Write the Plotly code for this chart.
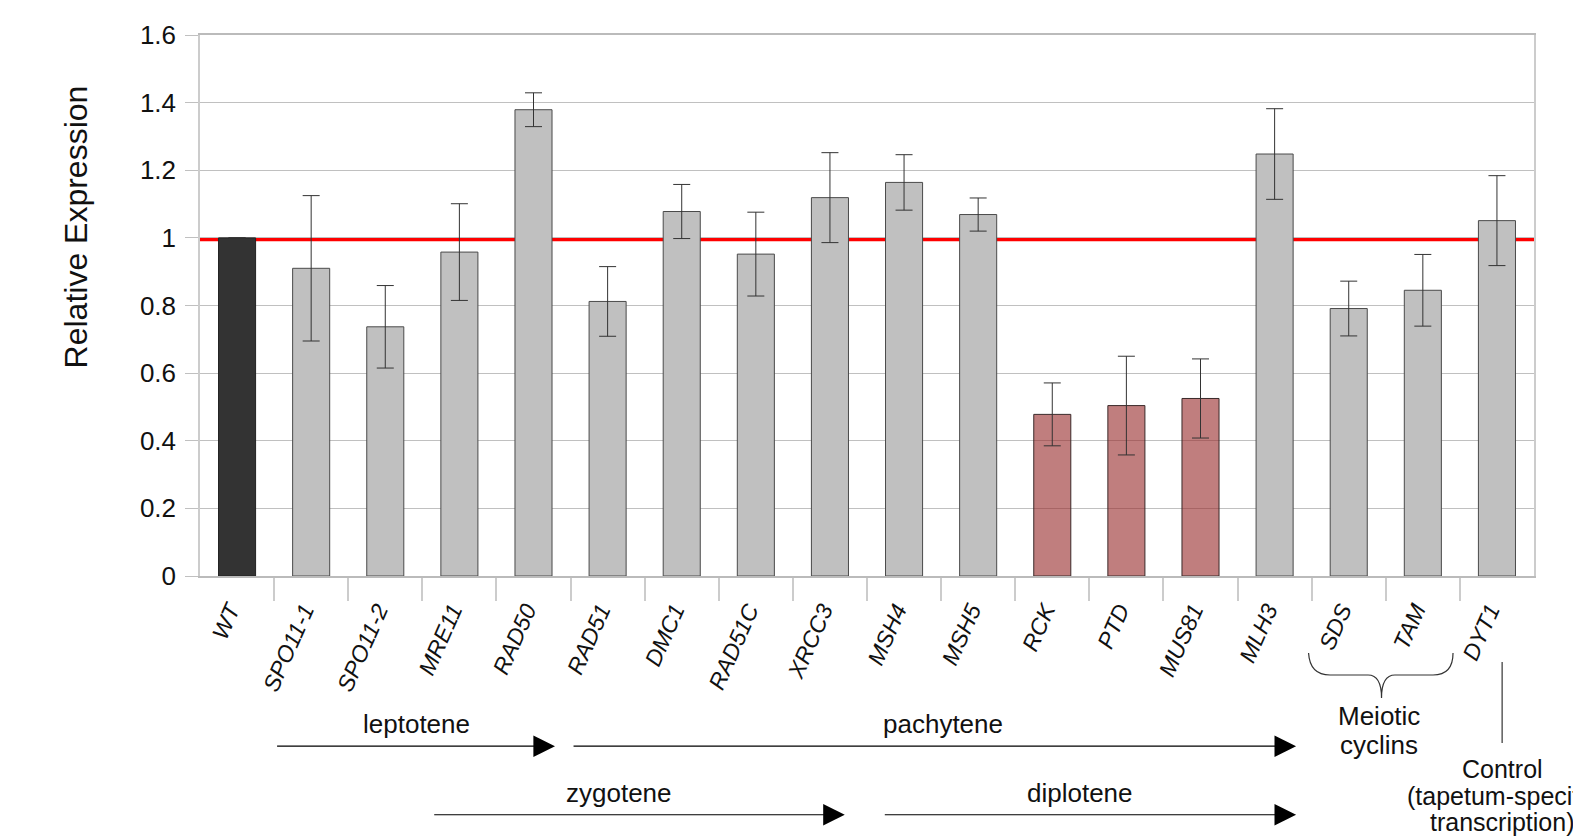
import plotly.graph_objects as go

GENES = ["WT", "SPO11-1", "SPO11-2", "MRE11", "RAD50", "RAD51", "DMC1", "RAD51C",
         "XRCC3", "MSH4", "MSH5", "RCK", "PTD", "MUS81", "MLH3", "SDS", "TAM", "DYT1"]
VALUES = [1.00, 0.91, 0.737, 0.958, 1.379, 0.812, 1.078, 0.952, 1.119, 1.164, 1.069,
          0.478, 0.504, 0.525, 1.248, 0.791, 0.845, 1.051]
ERRORS = [0.0, 0.215, 0.122, 0.143, 0.050, 0.103, 0.080, 0.124, 0.133, 0.082, 0.049,
          0.093, 0.146, 0.117, 0.134, 0.081, 0.106, 0.133]
GROUPS = ["wt", "g", "g", "g", "g", "g", "g", "g", "g", "g", "g",
          "r", "r", "r", "g", "g", "g", "g"]
Y_TICKS = [0, 0.2, 0.4, 0.6, 0.8, 1.0, 1.2, 1.4, 1.6]
Y_TICK_TEXT = ["0", "0.2", "0.4", "0.6", "0.8", "1", "1.2", "1.4", "1.6"]
REF_LEVEL = 0.995

FILL = {"wt": "#333333", "g": "#c0c0c0", "r": "rgba(150,40,40,0.6)"}
EDGE = {"wt": "#222222", "g": "#4a4a4a", "r": "#3a2a2a"}

FONT = "Arial, Liberation Sans, sans-serif"
idx = list(range(len(GENES)))

fig = go.Figure()
fig.add_trace(go.Bar(
    x=idx, y=VALUES, width=0.5,
    marker=dict(color=[FILL[g] for g in GROUPS],
                line=dict(color=[EDGE[g] for g in GROUPS], width=1)),
    error_y=dict(type="data", array=ERRORS, visible=True,
                 color="#333333", thickness=1, width=8.5),
    hoverinfo="x+y",
))

fig.add_shape(type="line", xref="paper", yref="y", x0=0, x1=1,
              y0=REF_LEVEL, y1=REF_LEVEL, line=dict(color="#ff0000", width=3.5),
              layer="between")

# stage arrows (data x, paper y)
arrows = [
    (0.52, 4.29, -0.3146), (4.52, 14.29, -0.3146),
    (2.64, 8.20, -0.4413), (8.72, 14.29, -0.4413),
]
for x0, x1, yy in arrows:
    fig.add_annotation(x=x1, y=yy, xref="x", yref="paper", ax=x0, ay=0,
                       axref="x", ayref="pixel", text="", showarrow=True,
                       arrowhead=2, arrowsize=3.6, arrowwidth=1.2,
                       arrowcolor="#000000")

labels = [
    ("leptotene", 2.42, -0.2736, 26), ("pachytene", 9.52, -0.2736, 26),
    ("zygotene", 5.15, -0.402, 26), ("diplotene", 11.37, -0.402, 26),
    ("Meiotic", 15.41, -0.2588, 26), ("cyclins", 15.41, -0.3124, 26),
    ("Control", 17.07, -0.3562, 25), ("(tapetum-specific", 17.07, -0.4067, 25),
    ("transcription)", 17.07, -0.4542, 25),
]
for t, xx, yy, fs in labels:
    fig.add_annotation(x=xx, y=yy, xref="x", yref="paper", text=t,
                       showarrow=False, xanchor="center", yanchor="middle",
                       font=dict(family=FONT, size=fs, color="#111111"))

# y-axis title (sits above the axis centre in the reference)
fig.add_annotation(x=-0.0933, y=0.6453, xref="paper", yref="paper",
                   text="Relative Expression", textangle=-90, showarrow=False,
                   xanchor="center", yanchor="middle",
                   font=dict(family=FONT, size=32, color="#111111"))

# brace under SDS / TAM
fig.add_shape(type="path", xref="paper", yref="paper",
              path=("M 0.8310,-0.1423 Q 0.8320,-0.1830 0.8471,-0.1830 "
                    "L 0.8756,-0.1830 Q 0.8857,-0.1830 0.8857,-0.2255 "
                    "Q 0.8857,-0.1830 0.8958,-0.1830 L 0.9243,-0.1830 "
                    "Q 0.9393,-0.1830 0.9393,-0.1423"),
              line=dict(color="#333333", width=1.2))
# line under DYT1
fig.add_shape(type="line", xref="x", yref="paper", x0=17.07, x1=17.07,
              y0=-0.159, y1=-0.3087, line=dict(color="#333333", width=1.2))

fig.update_layout(
    width=1581, height=839,
    margin=dict(l=192, r=55, t=27, b=271),
    paper_bgcolor="white", plot_bgcolor="white",
    showlegend=False,
    font=dict(family=FONT, color="#111111"),
    xaxis=dict(
        range=[-0.5, len(GENES) - 0.5],
        tickmode="array", tickvals=idx, ticktext=GENES,
        tickangle=-66,
        tickfont=dict(family=FONT, size=23, style="italic", color="#111111"),
        ticks="outside", ticklen=10, tickcolor="rgba(0,0,0,0)",
        ticklabelshift=-7,
        minor=dict(tickmode="array", tickvals=[i + 0.5 for i in idx[:-1]],
                   ticks="outside", ticklen=23, tickcolor="#cccccc",
                   tickwidth=1.5, showgrid=False),
        showgrid=False, zeroline=False,
        showline=True, linecolor="#bbbbbb", linewidth=1.5, mirror=True,
    ),
    yaxis=dict(
        range=[0, 1.6], tickmode="array", tickvals=Y_TICKS, ticktext=Y_TICK_TEXT,
        tickfont=dict(family=FONT, size=26, color="#111111"),
        ticks="outside", ticklen=13, tickcolor="#c0c0c0",
        ticklabelstandoff=4,
        showgrid=True, gridcolor="#c0c0c0", gridwidth=1,
        zeroline=False,
        showline=True, linecolor="#cccccc", linewidth=1.5, mirror=True,
    ),
)

fig.write_html("out.html")
